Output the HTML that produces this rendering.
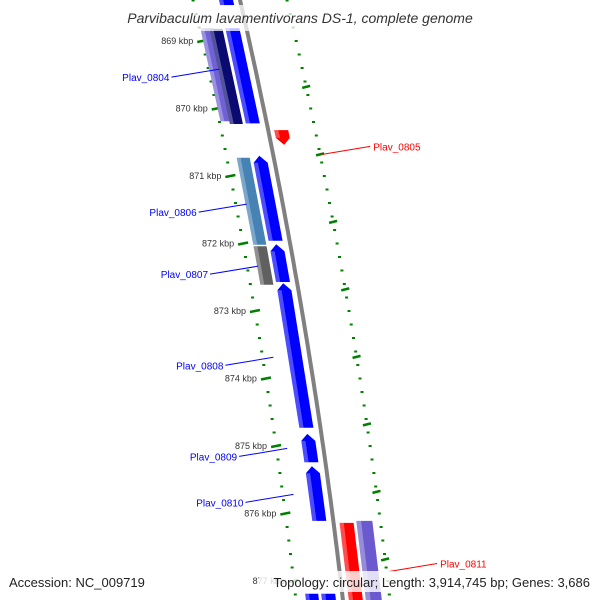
<!DOCTYPE html>
<html><head><meta charset="utf-8"><style>
html,body{margin:0;padding:0;background:#fff;}
svg{display:block;font-family:"Liberation Sans",sans-serif;}
</style></head><body>
<svg id="map" width="600" height="600" viewBox="0 0 600 600">
<g id="ticks"></g>
<line id="backbone"/>
<g id="genes"></g>
<g id="labels"></g>
<rect x="110" y="5" width="380" height="26" fill="#fff" opacity="0.75"/>
<text x="300" y="23" text-anchor="middle" font-size="14" font-style="italic" fill="#333">Parvibaculum lavamentivorans DS-1, complete genome</text>
<text x="9" y="587" font-size="13" fill="#222">Accession: NC_009719</text>
<rect x="259" y="571" width="341" height="21" fill="#fff" opacity="0.8"/>
<text x="590" y="587" text-anchor="end" font-size="13" fill="#222">Topology: circular; Length: 3,914,745 bp; Genes: 3,686</text>
</svg>
<script>
// data (kbp positions)
const geneNames = ["top","Plav_0804","Plav_0804","Plav_0804","Plav_0805","Plav_0806","Plav_0806","Plav_0807","Plav_0807","Plav_0808","Plav_0809","Plav_0810","Plav_0811","Plav_0811","bottom1","bottom2"];
const geneStarts = [868.30,868.81,868.82,868.81,870.32,870.70,870.73,872.01,872.04,872.59,874.82,875.30,876.14,876.11,877.19,877.19];
const geneEnds   = [868.47,870.19,870.23,870.22,870.54,871.96,872.02,872.57,872.61,874.73,875.24,876.11,877.50,877.50,877.50,877.50];
const geneTracks = ["t1","t3","t2","t1","r1","t1","t2","t1","t2","t1","t1","t1","r1","r2","t1","t2"];
const geneColors = ["#0000ff","#7062d4","#0a0a70","#0000ff","#ff0000","#0000ff","#4682b4","#0000ff","#606060","#0000ff","#0000ff","#0000ff","#ff0000","#6a5acd","#0000ff","#0000ff"];
const geneArrows = [0,0,0,0,1,-1,0,-1,0,-1,-1,-1,0,0,0,0];
const majorTicks = [869,870,871,872,873,874,875,876,877];
const labelNames = ["Plav_0804","Plav_0805","Plav_0806","Plav_0807","Plav_0808","Plav_0809","Plav_0810","Plav_0811"];
const labelKbp = [869.49,870.62,871.49,872.41,873.76,875.11,875.79,876.80];
const labelSide = [-1,1,-1,-1,-1,-1,-1,1];

const NS="http://www.w3.org/2000/svg";
const y = k => 41 + (k-869)*67.5;
const cx = yy => 240 + 0.229*yy - 9.58e-5*yy*yy;
const P = (yy,off) => (cx(yy)+off).toFixed(1)+","+yy.toFixed(1);
const tracks = {t1:[-21,-7],t2:[-37,-24],t3:[-46,-33],r1:[6,20],r2:[23,39]};
function mk(tag,attrs,parent){const e=document.createElementNS(NS,tag);for(const k in attrs)e.setAttribute(k,attrs[k]);parent.appendChild(e);return e;}

const bb=document.getElementById('backbone');
// backbone as polyline instead
bb.remove();
const gMap=document.getElementById('map');
let pts=[];for(let yy=-10;yy<=610;yy+=10)pts.push(P(yy,0));
const bl=mk('polyline',{points:pts.join(' '),fill:'none',stroke:'#808080','stroke-width':4},gMap);


gMap.insertBefore(bl,document.getElementById('genes'));

// ticks
const gT=document.getElementById('ticks');
for(let k=868.2;k<=877.6;k+=0.2){
  const yy=y(k);
  for(const side of [-47,47]){
    const d=mk('rect',{x:(cx(yy)+side-1.5).toFixed(1),y:(yy-1).toFixed(1),width:3,height:2,fill:'#008000'},gT);
    
    
  }
}
majorTicks.forEach(k=>{
  const yy=y(k);
  const l=mk('line',{x1:cx(yy)-52,y1:yy+1,x2:cx(yy)-42,y2:yy-1,stroke:'#008000','stroke-width':2.5},gT);
  
  
  const t=mk('text',{x:cx(yy)-56,y:yy+3,'text-anchor':'end','font-size':9,fill:'#333'},gT);
  t.textContent=k+' kbp';
  
  
  const yr=y(k+0.68);
  const r=mk('line',{x1:cx(yr)+43,y1:yr+1,x2:cx(yr)+51,y2:yr-1,stroke:'#008000','stroke-width':2.5},gT);
  
  
});

// genes
const gG=document.getElementById('genes');
geneNames.forEach((n,i)=>{
  const [a,b]=tracks[geneTracks[i]];
  const y1=y(geneStarts[i]), y2=y(geneEnds[i]);
  const m=(a+b)/2, ar=geneArrows[i];
  let poly;
  if(ar===-1){
    const yt=y1+7;
    poly=[P(yt,a),P(y1,m),P(yt,b),P(y2,b),P(y2,a)];
  } else if(ar===1){
    const yb=y2-7;
    poly=[P(y1,a),P(y1,b),P(yb,b),P(y2,m),P(yb,a)];
  } else poly=[P(y1,a),P(y1,b),P(y2,b),P(y2,a)];
  const p=mk('polygon',{points:poly.join(' '),fill:geneColors[i]},gG);
  
  
  const w=(b-a)*0.3;
  const hy1=ar===-1?y1+7:y1, hy2=ar===1?y2-7:y2;
  const h=mk('polygon',{points:[P(hy1,a),P(hy1,a+w),P(hy2,a+w),P(hy2,a)].join(' '),fill:'#fff',opacity:0.3},gG);
  
  
});

// labels
const gL=document.getElementById('labels');
labelNames.forEach((n,i)=>{
  const yy=y(labelKbp[i]), s=labelSide[i];
  const col=s<0?'#0000ff':'#ff0000';
  let x1,x2,y1,y2,tx,anchor;
  if(s<0){x2=cx(yy)-47+10;y2=yy-5;x1=x2-48;y1=yy+3;tx=x1-2;anchor='end';}
  else {x1=cx(yy)+50;y1=yy+4;x2=x1+48;y2=yy-4;tx=x2+3;anchor='start';}
  const l=mk('line',{x1,y1,x2,y2,stroke:col,'stroke-width':1},gL);
  
  
  const t=mk('text',{x:tx,y:(s<0?y1:y2)+4,'text-anchor':anchor,'font-size':10,fill:col},gL);
  t.textContent=n;
  
  
});
</script>
</body></html>
